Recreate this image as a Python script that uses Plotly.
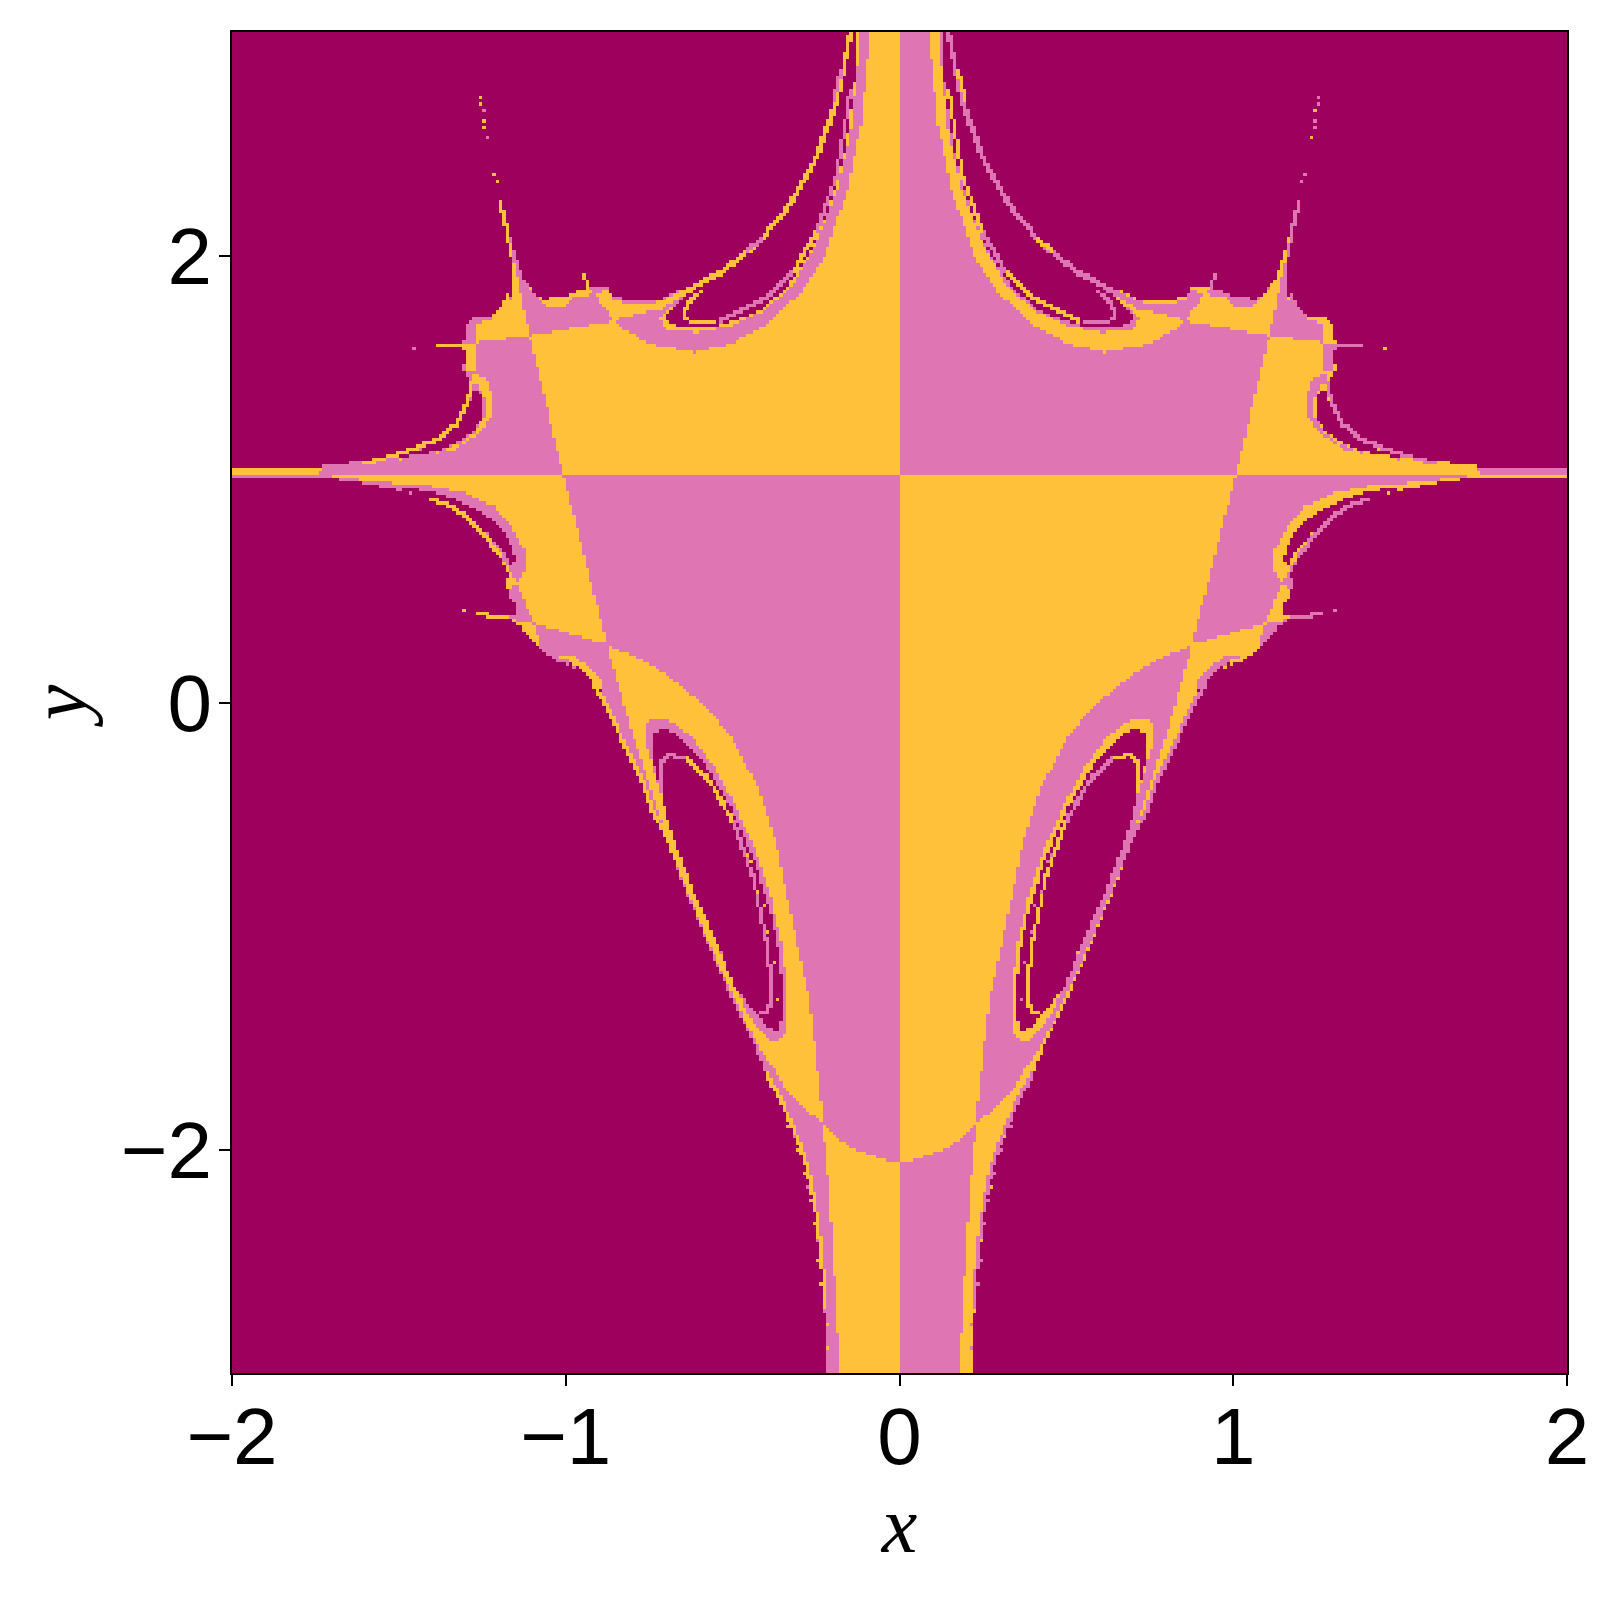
import numpy as np
import plotly.graph_objects as go

# Basin outlines, left half (x < 0), in data units.
envelope = [(0,3),(-0.152,3),(-0.197,2.691),(-0.257,2.438),(-0.337,2.229),(-0.437,2.05),(-0.537,1.938),(-0.637,1.856),
 (-0.7155,1.806),(-0.8155,1.797),(-0.8555,1.819),(-0.8755,1.856),(-0.9305,1.856),(-0.9355,1.841),(-0.9755,1.834),(-0.9955,1.811),
 (-1.0455,1.811),(-1.0955,1.834),(-1.1255,1.893),(-1.1555,2.028),(-1.1905,2.236),(-1.1985,2.288),(-1.1655,2.028),(-1.1605,1.953),
 (-1.1605,1.819),(-1.1955,1.752),(-1.2255,1.722),(-1.2555,1.727),(-1.2755,1.727),(-1.2975,1.692),(-1.2975,1.625),(-1.3255,1.603),
 (-1.4105,1.593),(-1.3255,1.595),(-1.3005,1.566),(-1.3055,1.506),(-1.3155,1.494),(-1.3094,1.49),(-1.2844,1.431),(-1.2864,1.371),
 (-1.3144,1.267),(-1.3844,1.177),(-1.4744,1.125),(-1.5844,1.085),(-1.7244,1.058),(-1.8544,1.046),(-2,1.043),(-2,1.005),
 (-1.7344,1.005),(-1.6344,0.991),(-1.5344,0.96),(-1.4057,0.916),(-1.3457,0.886),(-1.2957,0.827),(-1.2457,0.752),(-1.1957,0.648),
 (-1.1707,0.566),(-1.1837,0.543),(-1.1737,0.506),(-1.1607,0.447),(-1.1707,0.391),(-1.2607,0.397),(-1.1757,0.377),(-1.1357,0.342),
 (-1.1057,0.28),(-1.0757,0.238),(-1.0657,0.228),(-1.0257,0.186),(-0.9557,0.141),(-0.8907,0.059),(-0.8666,-0.061),(-0.7766,-0.329),
 (-0.7116,-0.568),(-0.6466,-0.821),(-0.5766,-1.074),(-0.5022,-1.329),(-0.4472,-1.493),(-0.3972,-1.672),(-0.3622,-1.776),
 (-0.3272,-1.88),(-0.2772,-2.074),(-0.2372,-2.372),(-0.2272,-2.595),(-0.2222,-2.893),(-0.219,-3),(0,-3)]

yellow_top = [(0,3),(-0.0868,3),(-0.1148,2.587),(-0.1568,2.289),(-0.2268,1.991),(-0.2918,1.842),(-0.3918,1.693),(-0.5068,1.603),
 (-0.6168,1.566),(-0.7468,1.603),(-0.8368,1.678),(-0.8555,1.707),(-1.1075,1.64),(-1.0087,1.027),(0,1.027)]
yellow_mid = [(-1.0087,1.027),(-1.7444,1.027),(-1.6944,1.009),(-1.5844,0.991),(-1.4057,0.968),(-1.3057,0.938),(-1.2157,0.879),
 (-1.1557,0.774),(-1.1207,0.67),(-1.1157,0.61),(-1.1437,0.529),(-1.0957,0.354),(-0.8757,0.26)]
yellow_band = [(-0.8757,0.26),(-0.7457,0.171),(-0.6816,0.103),(-0.5866,-0.009),(-0.5066,-0.15),(-0.4266,-0.374),(-0.3666,-0.642),
 (-0.3166,-1.015),(-0.2702,-1.329),(-0.2522,-1.552),(-0.2372,-1.746),(-0.2302,-1.888),(-0.2872,-1.806),(-0.3472,-1.724),(-0.3772,-1.634),
 (-0.4122,-1.567),(-0.4372,-1.493),(-0.4622,-1.433),(-0.4872,-1.336),(-0.5066,-1.268),(-0.5666,-1.059),(-0.6366,-0.851),(-0.7116,-0.538),
 (-0.7566,-0.344),(-0.7966,-0.165),(-0.8466,0.103),(-0.8607,0.178)]
yellow_bottom = [(-0.2302,-1.888),(-0.1772,-1.962),(-0.1172,-2.011),(-0.0372,-2.049),(0,-2.052),(0,-3),(-0.18,-3),(-0.1822,-2.893),
 (-0.1922,-2.625),(-0.2122,-2.163)]
yellow_spike = [(-1.2735,1.692),(-1.2255,1.712),(-1.1955,1.737),(-1.1605,1.811),(-1.1555,1.893),(-1.1635,1.998),(-1.1505,1.938),
 (-1.1075,1.64),(-1.2705,1.61)]
yellow_column = [(-1.3255,1.6),(-1.2705,1.61),(-1.2705,1.478),(-1.3,1.494),(-1.305,1.506),(-1.3005,1.566)]
yellow_tip = [(-2,1.043),(-1.8544,1.046),(-1.7444,1.05),(-1.7144,1.055),(-1.7444,1.027),(-2,1.027)]
yellow_side_ring = [(-1.2694,1.475),(-1.2344,1.438),(-1.2174,1.356),(-1.2224,1.281),(-1.2594,1.207),(-1.3344,1.132),(-1.4344,1.103),
 (-1.5844,1.07),(-1.6644,1.054),(-1.5844,1.08),(-1.4844,1.088),(-1.3844,1.118),(-1.3144,1.162),(-1.2744,1.207),(-1.2444,1.281),
 (-1.2444,1.356),(-1.2594,1.408),(-1.2794,1.453)]
yellow_wedge = [(-0.8555,1.707),(-0.9105,1.826),(-0.8755,1.846),(-0.8555,1.804),(-0.7955,1.779),(-0.7155,1.796),(-0.637,1.856),
 (-0.5368,1.938),(-0.437,2.05),(-0.337,2.229),(-0.257,2.438),(-0.197,2.691),(-0.152,3),(-0.1398,3),(-0.1818,2.683),(-0.2428,2.43),
 (-0.3248,2.214),(-0.4248,2.038),(-0.5268,1.919),(-0.6268,1.834),(-0.7168,1.76),(-0.8368,1.722)]
yellow_top_ring = [(-0.7218,1.715),(-0.6968,1.67),(-0.6068,1.655),(-0.5068,1.685),(-0.4068,1.752),(-0.3168,1.871),(-0.2468,2.065),
 (-0.1868,2.289),(-0.1468,2.542),(-0.1268,2.826),(-0.1168,3),(-0.1248,3),(-0.1368,2.736),(-0.1668,2.438),(-0.2168,2.184),(-0.2768,1.991),
 (-0.3468,1.842),(-0.4368,1.737),(-0.5468,1.685),(-0.6568,1.678),(-0.7018,1.707),(-0.6968,1.737)]
yellow_arm = [(-0.7218,1.715),(-0.6868,1.767),(-0.6268,1.815),(-0.6068,1.841),(-0.6368,1.819),(-0.6968,1.737)]
yellow_arc = [(-1.1305,1.908),(-1.1255,1.893),(-1.0955,1.834),(-1.0455,1.811),(-0.9955,1.811),(-0.9755,1.834),(-0.9355,1.856),
 (-0.9155,1.838),(-0.9255,1.823),(-0.9755,1.811),(-1.0055,1.771),(-1.0555,1.774),(-1.1005,1.834)]
yellow_low_wedge = [(-1.0957,0.354),(-1.0757,0.242),(-1.1057,0.28),(-1.1357,0.342),(-1.1757,0.377),(-1.2607,0.397)]
yellow_blob = [(-1.1837,0.543),(-1.1707,0.563),(-1.1917,0.648),(-1.1437,0.532),(-1.1607,0.514),(-1.1777,0.518)]
yellow_low_arc = [(-1.0257,0.2),(-0.9857,0.214),(-0.9457,0.178),(-0.8907,0.1),(-0.8907,0.06),(-0.9507,0.14),(-0.9957,0.19)]

pink_ring = [(-0.7566,-0.091),(-0.7266,-0.068),(-0.6866,-0.083),(-0.6266,-0.15),(-0.5566,-0.284),(-0.4966,-0.448),(-0.4366,-0.642),
 (-0.3866,-0.866),(-0.3516,-1.089),(-0.3366,-1.313),(-0.3372,-1.463),(-0.3622,-1.523),(-0.3872,-1.508),(-0.4272,-1.448),(-0.4572,-1.389),
 (-0.4766,-1.313),(-0.5316,-1.134),(-0.6016,-0.866),(-0.6866,-0.523),(-0.7316,-0.329),(-0.7566,-0.195)]

hole_top = [(-0.1398,3),(-0.1818,2.683),(-0.2428,2.43),(-0.3248,2.214),(-0.4248,2.038),(-0.5268,1.919),(-0.6268,1.834),(-0.6968,1.737),
 (-0.7018,1.707),(-0.6568,1.678),(-0.5468,1.685),(-0.4368,1.737),(-0.3468,1.842),(-0.2768,1.991),(-0.2168,2.184),(-0.1668,2.438),
 (-0.1368,2.736),(-0.1248,3)]
hole_low = [(-0.7416,-0.143),(-0.7066,-0.113),(-0.6566,-0.158),(-0.5866,-0.27),(-0.5066,-0.463),(-0.4366,-0.702),(-0.3866,-0.94),
 (-0.3566,-1.164),(-0.3486,-1.387),(-0.3616,-1.476),(-0.3966,-1.454),(-0.4116,-1.417),(-0.4366,-1.38),(-0.4966,-1.268),(-0.5416,-1.089),
 (-0.6066,-0.881),(-0.6686,-0.642),(-0.7016,-0.493),(-0.7116,-0.389),(-0.7216,-0.374),(-0.7416,-0.24)]
hole_side_low = [(-1.53,0.968),(-1.4057,0.946),(-1.3257,0.908),(-1.2557,0.849),(-1.1957,0.789),(-1.1607,0.7),(-1.1507,0.64),(-1.1657,0.618),
 (-1.1907,0.685),(-1.2357,0.76),(-1.2957,0.834),(-1.3457,0.886),(-1.4057,0.913)]
hole_small = [(-1.1577,0.461),(-1.1477,0.417),(-1.1557,0.391),(-1.1707,0.391),(-1.1607,0.432)]
hole_side_up = [(-1.2594,1.401),(-1.2494,1.356),(-1.2494,1.281),(-1.2794,1.207),(-1.3194,1.17),(-1.3844,1.125),(-1.4744,1.1),(-1.5244,1.092),
 (-1.4344,1.132),(-1.3644,1.192),(-1.3144,1.274),(-1.2894,1.341),(-1.2744,1.393)]
hole_sliver = [(-1.1205,1.886),(-1.0855,1.841),(-1.0455,1.804),(-1.0005,1.801),(-1.0455,1.794),(-1.0855,1.819)]
hole_low_arc = [(-1.0057,0.192),(-0.9657,0.165),(-0.9107,0.085),(-0.9457,0.13)]

# Thin filaments, one cell wide: (class, points). 1 = pink, 2 = yellow.
line_top_inner = (2, [(-0.5568,1.7),(-0.6218,1.7),(-0.6468,1.73),(-0.6368,1.782),(-0.5968,1.834)])
line_top_long_a = (1, [(-0.5368,1.708),(-0.3968,1.812),(-0.3168,1.931)])
line_top_long_b = (2, [(-0.3168,1.931),(-0.2468,2.11)])
line_top_long_c = (1, [(-0.2468,2.11),(-0.1868,2.363),(-0.1468,2.736)])
line_top_patch_a = (1, [(-0.197,2.691),(-0.177,2.82)])
line_top_patch_b = (1, [(-0.457,2.02),(-0.417,2.07)])
line_low_ring_a = (1, [(-0.7116,-0.389),(-0.7116,-0.27),(-0.6916,-0.232),(-0.6366,-0.255)])
line_low_ring_b = (2, [(-0.6366,-0.255),(-0.5666,-0.359),(-0.4966,-0.538)])
line_low_ring_c = (1, [(-0.4966,-0.538),(-0.4366,-0.791),(-0.3966,-1.089),(-0.3816,-1.283),(-0.3916,-1.372),(-0.4116,-1.395)])
line_low_strip = (2, [(-0.7116,-0.553),(-0.6566,-0.746),(-0.5866,-1),(-0.5266,-1.208),(-0.4816,-1.335)])
line_low_edge = (2, [(-0.9166,0.088),(-0.8666,-0.046),(-0.8266,-0.18),(-0.7766,-0.329),(-0.7266,-0.538)])
line_bottom_edge = (2, [(-0.3972,-1.664),(-0.3622,-1.761),(-0.3222,-1.888),(-0.2822,-2.044),(-0.2522,-2.253),(-0.2322,-2.491),(-0.2222,-2.7)])
line_side_up = (2, [(-1.2794,1.43),(-1.2944,1.349),(-1.3294,1.244),(-1.3844,1.177),(-1.4844,1.118),(-1.5844,1.076)])
line_side_low = (2, [(-1.4057,0.908),(-1.3457,0.879),(-1.2957,0.827),(-1.2457,0.752),(-1.1957,0.655)])
line_spike = (2, [(-1.1975,2.244),(-1.1805,2.147),(-1.1635,1.998)])
line_tip = (2, [(-1.3805,1.595),(-1.3255,1.603)])
line_small_spike = (2, [(-0.9485,1.919),(-0.9305,1.856)])
line_lower_tip = (2, [(-1.2607,0.397),(-1.1757,0.377)])
line_side_dash = (2, [(-1.2155,1.729),(-1.1905,1.767),(-1.1705,1.819)])
dots_yellow = [(-1.2555,2.706),(-1.2525,2.68),(-1.2435,2.605),(-1.2405,2.57),(-1.2105,2.363),(-1.2055,2.33),(-1.3057,0.412),
 (-0.3572,-1.791),(-0.3322,-1.9),(-0.3072,-2.0),(-0.2872,-2.11),(-0.2672,-2.223),(-0.2572,-2.33),(-0.2422,-2.491),(-0.2322,-2.6),(-0.2272,-2.67),
 (-0.2172,-2.78),(-0.2172,-2.89),(-0.4466,-0.717),(-0.4266,-0.851),(-0.4066,-0.91),(-0.3916,-1.03),(-0.3716,-1.164),(-0.3616,-1.327),
 (-0.4566,-0.687),(-0.5266,-0.448),(-0.5766,-0.329)]
dots_pink = [(-1.4555,1.588),(-1.2495,2.65),(-1.2335,2.531),(-0.3172,-1.95),(-0.2772,-2.16),(-0.2472,-2.41)]

filled_yellow = [yellow_top, yellow_mid, yellow_band, yellow_bottom, yellow_spike, yellow_column, yellow_tip, yellow_side_ring,
                 yellow_wedge, yellow_top_ring, yellow_arm, yellow_arc, yellow_low_wedge, yellow_blob, yellow_low_arc]
filled_dark = [hole_top, hole_low, hole_side_low, hole_small, hole_side_up, hole_sliver, hole_low_arc]
filaments = [line_top_inner, line_top_long_a, line_top_long_b, line_top_long_c, line_top_patch_a, line_top_patch_b,
             line_low_ring_a, line_low_ring_b, line_low_ring_c, line_low_strip, line_low_edge, line_bottom_edge,
             line_side_up, line_side_low, line_spike, line_tip, line_small_spike, line_lower_tip, line_side_dash]

x_ticks = [-2, -1, 0, 1, 2]
y_ticks = [-2, 0, 2]
basin_colors = ["#9e005d", "#e075b3", "#ffc13a"]

N = 400
xc = np.linspace(-2, 2, N + 1)[:-1] + 2 / N
yc = np.linspace(-3, 3, N + 1)[:-1] + 3 / N
left_x = xc[:N // 2]
X, Y = np.meshgrid(left_x, yc)
grid = np.zeros(X.shape, dtype=int)


def fill(outline, cls):
    pts = np.array(outline, dtype=float)
    inside = np.zeros(X.shape, dtype=bool)
    for (x1, y1), (x2, y2) in zip(pts, np.roll(pts, -1, axis=0)):
        if y1 == y2:
            continue
        span = (y1 > Y) != (y2 > Y)
        inside ^= span & (X < x1 + (Y - y1) * (x2 - x1) / (y2 - y1))
    grid[inside] = cls


def mark(x, y, cls):
    i = int((x + 2) / 4 * N)
    j = int((y + 3) / 6 * N)
    if 0 <= i < N // 2 and 0 <= j < N:
        grid[j, i] = cls


fill(envelope, 1)
for outline in filled_yellow:
    fill(outline, 2)
fill(pink_ring, 1)
for outline in filled_dark:
    fill(outline, 0)
for cls, pts in filaments:
    for (x1, y1), (x2, y2) in zip(pts[:-1], pts[1:]):
        for t in np.linspace(0, 1, 60):
            mark(x1 + t * (x2 - x1), y1 + t * (y2 - y1), cls)
for x, y in dots_yellow:
    mark(x, y, 2)
for x, y in dots_pink:
    mark(x, y, 1)

# The right half mirrors the left with pink and yellow exchanged.
swap = np.array([0, 2, 1])
z = np.hstack([grid, swap[grid[:, ::-1]]])

fig = go.Figure(go.Heatmap(
    x=xc, y=yc, z=z, zmin=0, zmax=2, showscale=False, hoverinfo="skip",
    colorscale=[[0, basin_colors[0]], [1 / 3, basin_colors[0]], [1 / 3, basin_colors[1]],
                [2 / 3, basin_colors[1]], [2 / 3, basin_colors[2]], [1, basin_colors[2]]],
))
axis = dict(showgrid=False, zeroline=False, showline=True, mirror=True, linecolor="black", linewidth=2,
            ticks="outside", ticklen=11, tickwidth=2, tickcolor="black",
            tickfont=dict(family="Liberation Sans", size=80, color="black"))
fig.update_layout(
    width=1600, height=1600, margin=dict(l=224, r=41, t=24, b=235), paper_bgcolor="white", plot_bgcolor="white",
    xaxis=dict(range=[-2, 2], tickvals=x_ticks, ticklabelstandoff=-18, title=dict(text="\u200a<i>x</i>", standoff=16,
               font=dict(family="Liberation Serif", size=80, color="black")), **axis),
    yaxis=dict(range=[-3, 3], tickvals=y_ticks, ticklabelstandoff=-9, title=dict(text="\u200a<i>y</i>", standoff=8,
               font=dict(family="Liberation Serif", size=80, color="black")), **axis),
)
fig.write_html("out.html")
